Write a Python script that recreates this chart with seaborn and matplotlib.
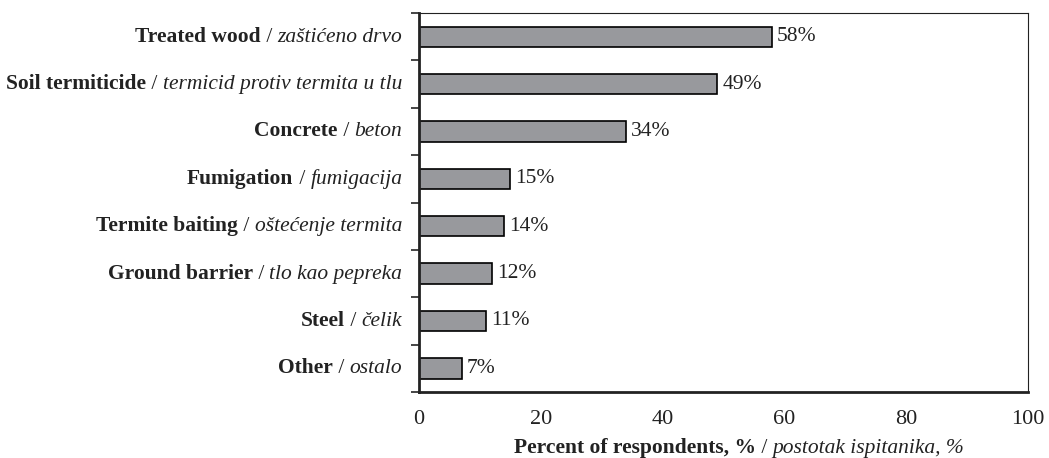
import matplotlib
matplotlib.use("Agg")
import matplotlib.pyplot as plt
import seaborn as sns
import pandas as pd
import numpy as np
from matplotlib.offsetbox import TextArea, HPacker, AnnotationBbox

# data
cat_en = ["Treated wood", "Soil termiticide", "Concrete", "Fumigation",
          "Termite baiting", "Ground barrier", "Steel", "Other"]
cat_hr = ["zaštićeno drvo", "termicid protiv termita u tlu", "beton", "fumigacija",
          "oštećenje termita", "tlo kao pepreka", "čelik", "ostalo"]
percent = [58, 49, 34, 15, 14, 12, 11, 7]

sns.set_theme(style="white")
plt.rcParams['font.family'] = ['Liberation Serif', 'DejaVu Serif']

FS = 15.5
INK = "#222222"

df = pd.DataFrame({"cat": cat_en, "pct": percent})

fig = plt.figure(figsize=(10.49, 4.58), dpi=100)
ax = fig.add_axes([0.3994, 0.144, 0.5806, 0.8276])

sns.barplot(data=df, x="pct", y="cat", orient="h", color="#98999d",
            saturation=1, width=0.43, edgecolor="black", linewidth=1.2, ax=ax)

ax.set_xlim(0, 100)
ax.set_ylim(len(cat_en) - 0.5, -0.5)
ax.set_xticks(range(0, 101, 20))
ax.tick_params(axis="x", labelsize=16, direction="in", length=4, width=1,
               pad=13, colors=INK)
ax.set_yticks(np.arange(-0.5, len(cat_en), 1))
ax.set_yticklabels([])
ax.tick_params(axis="y", direction="out", length=6, width=1.2, left=True)
ax.set_ylabel("")
ax.set_xlabel("")

for side in ["top", "right"]:
    ax.spines[side].set_linewidth(0.8)
for side in ["left", "bottom"]:
    ax.spines[side].set_linewidth(2)
for s in ax.spines.values():
    s.set_color(INK)

# value labels
for i, v in enumerate(percent):
    ax.text(v + 0.8, i, f"{v}%", va="center", ha="left", fontsize=FS, color=INK)

# category labels: bold english / italic croatian
for i, (en, hr) in enumerate(zip(cat_en, cat_hr)):
    box = HPacker(children=[
        TextArea(en, textprops=dict(fontweight="bold", fontsize=FS, color=INK)),
        TextArea(" / ", textprops=dict(fontsize=FS, color=INK)),
        TextArea(hr, textprops=dict(fontstyle="italic", fontsize=FS, color=INK)),
    ], pad=0, sep=0, align="baseline")
    ab = AnnotationBbox(box, (0, i), xycoords=("axes fraction", "data"),
                        xybox=(-12, 0), boxcoords="offset points",
                        box_alignment=(1, 0.5), frameon=False, annotation_clip=False)
    ax.add_artist(ab)

# x label
xbox = HPacker(children=[
    TextArea("Percent of respondents, %", textprops=dict(fontweight="bold", fontsize=FS, color=INK)),
    TextArea(" / ", textprops=dict(fontsize=FS, color=INK)),
    TextArea("postotak ispitanika, %", textprops=dict(fontstyle="italic", fontsize=FS, color=INK)),
], pad=0, sep=0, align="baseline")
ab = AnnotationBbox(xbox, (0.5, 0), xycoords="axes fraction",
                    xybox=(11, -40), boxcoords="offset points",
                    box_alignment=(0.5, 0.5), frameon=False, annotation_clip=False)
ax.add_artist(ab)

fig.savefig("out.png", dpi=100)
